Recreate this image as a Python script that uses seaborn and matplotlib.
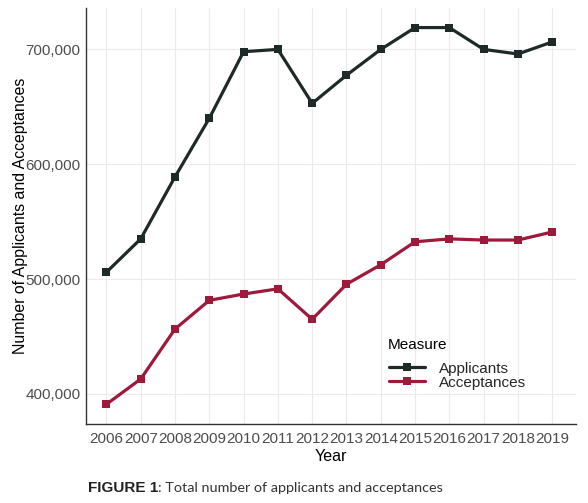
import pandas as pd
import matplotlib.pyplot as plt
import seaborn as sns
from matplotlib.ticker import FuncFormatter

years = list(range(2006, 2020))
applicants = [506000, 535000, 589000, 640000, 698000, 700000, 653000,
              677500, 700000, 719000, 719000, 700000, 696000, 706500]
acceptances = [391000, 413000, 456500, 481500, 487000, 491500, 465000,
               495500, 512500, 532500, 535000, 534000, 534000, 541000]
measures = ['Applicants', 'Acceptances']
colors = ['#1e2a27', '#9e1a3a']

df = pd.DataFrame({
    'Year': years * 2,
    'Value': applicants + acceptances,
    'Measure': ['Applicants'] * len(years) + ['Acceptances'] * len(years),
})

sns.set_style('whitegrid')
plt.rcParams['font.family'] = ['Liberation Sans', 'DejaVu Sans']

fig = plt.figure(figsize=(5.88, 5.03), dpi=100)
ax = fig.add_axes([0.146, 0.157, 0.834, 0.827])

sns.lineplot(data=df, x='Year', y='Value', hue='Measure', hue_order=measures,
             palette=colors, marker='s', markersize=6, markeredgewidth=0,
             linewidth=2.3, ax=ax)

ax.set_xlim(2005.4, 2019.7)
ax.set_ylim(373800, 736000)
ax.set_xticks(years)
ax.set_yticks([400000, 500000, 600000, 700000])
ax.yaxis.set_major_formatter(FuncFormatter(lambda v, p: f'{int(v):,}'))
ax.tick_params(axis='both', labelsize=11, colors='#4d4d4d', length=0, pad=4)
ax.tick_params(axis='x', pad=6)
ax.grid(True, color='#ebebeb', linewidth=0.8)

for side in ['top', 'right']:
    ax.spines[side].set_visible(False)
for side in ['left', 'bottom']:
    ax.spines[side].set_color('#333333')
    ax.spines[side].set_linewidth(1.0)

ax.set_xlabel('Year', fontsize=11.5, color='black', labelpad=2)
ax.set_ylabel('Number of Applicants and Acceptances', fontsize=11.4,
              color='black', labelpad=-2)

# legend title drawn separately so the gap above the entries can match
fig.text(388 / 588, 1 - 345 / 503, 'Measure', fontsize=11, va='center',
         color='black')
leg = ax.legend(loc='upper left', bbox_to_anchor=(381 / 588, 1 - 354 / 503),
                bbox_transform=fig.transFigure, frameon=False,
                fontsize=11, labelspacing=0,
                handlelength=2.4, handletextpad=0.9, borderpad=0)

t1 = fig.text(88 / 588, 1 - 492 / 503, 'FIGURE 1', fontsize=11,
              fontweight='bold', family=['Liberation Sans', 'DejaVu Sans'],
              color='#222222', va='baseline')
fig.canvas.draw()
bb = t1.get_window_extent(fig.canvas.get_renderer())
fig.text(bb.x1 / fig.bbox.width, 1 - 492 / 503,
         ': Total number of applicants and acceptances',
         fontsize=10.4, family=['Lato', 'DejaVu Sans'],
         color='#333333', va='baseline')

fig.savefig('out.png', dpi=100)
